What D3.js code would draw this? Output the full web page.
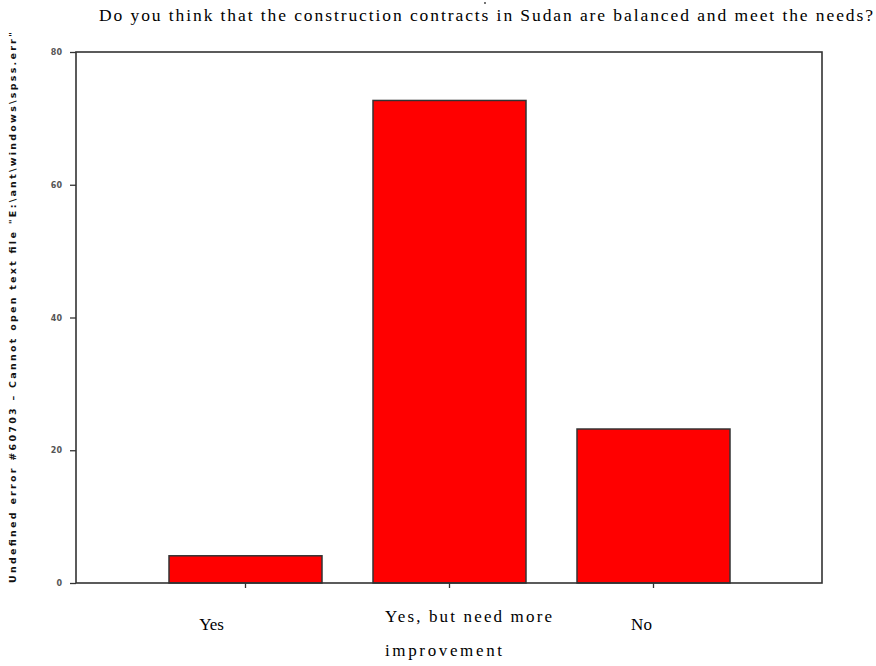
<!DOCTYPE html>
<html>
<head>
<meta charset="utf-8">
<script src="https://cdn.jsdelivr.net/npm/d3@7"></script>
<style>
  html, body { margin: 0; padding: 0; background: #fff; }
  svg { display: block; }
</style>
</head>
<body>
<svg id="chart" width="876" height="666"></svg>
<script>
const categories = ["Yes", "Yes, but need more improvement", "No"];
const categoryLines = [["Yes"], ["Yes, but need more", "improvement"], ["No"]];
const values = [4.1, 72.7, 23.2];
const yTicks = [0, 20, 40, 60, 80];
const titleText = "Do you think that the construction contracts in Sudan are balanced and meet the needs?";
const yLabelText = "Undefined error #60703 \u2013 Cannot open text file \"E:\\ant\\windows\\spss.err\"";

const svg = d3.select("#chart");
const frame = { left: 76, top: 52, right: 822, bottom: 583 };

const x = d3.scaleBand()
  .domain(categories)
  .range([143.5, 755.5])
  .paddingInner(0.25)
  .paddingOuter(0.125);

const y = d3.scaleLinear().domain([0, 80]).range([frame.bottom, frame.top]);

// Title
svg.append("text")
  .attr("x", 99).attr("y", 21)
  .attr("textLength", 774).attr("lengthAdjust", "spacing")
  .style("font-family", "'Liberation Serif', 'Times New Roman', serif")
  .style("font-size", "17.5px")
  .attr("fill", "#000")
  .text(titleText);

// tiny stray dot above the title (as in the reference)
svg.append("circle")
  .attr("cx", 485).attr("cy", 3).attr("r", 0.9)
  .attr("fill", "#333");

// Bars
svg.selectAll("rect.bar")
  .data(values)
  .join("rect")
  .attr("class", "bar")
  .attr("x", (d, i) => x(categories[i]))
  .attr("width", x.bandwidth())
  .attr("y", d => y(d))
  .attr("height", d => y(0) - y(d))
  .attr("fill", "#ff0000")
  .attr("stroke", "#333")
  .attr("stroke-width", 1.5);

// Frame
svg.append("rect")
  .attr("x", frame.left).attr("y", frame.top)
  .attr("width", frame.right - frame.left)
  .attr("height", frame.bottom - frame.top)
  .attr("fill", "none")
  .attr("stroke", "#333")
  .attr("stroke-width", 1.6);

// Y axis
const yAxis = d3.axisLeft(y).tickValues(yTicks).tickSize(6).tickPadding(8).tickFormat(d3.format("d"));
const yg = svg.append("g").attr("transform", `translate(${frame.left},0)`).call(yAxis);
yg.select(".domain").remove();
yg.selectAll(".tick line").attr("stroke", "#333").attr("stroke-width", 1.3);
yg.selectAll(".tick text")
  .style("font-family", "'DejaVu Sans', sans-serif")
  .style("font-size", "8px")
  .style("font-weight", "bold")
  .attr("fill", "#555");

// X axis ticks
const xAxis = d3.axisBottom(x).tickSize(5).tickFormat("");
const xg = svg.append("g").attr("transform", `translate(0,${frame.bottom})`).call(xAxis);
xg.select(".domain").remove();
xg.selectAll(".tick line").attr("stroke", "#333").attr("stroke-width", 1.3);

// X labels
const labelDx = [-34, 19, -12];
const labelFont = "'Liberation Serif', 'Times New Roman', serif";
categoryLines.forEach((lines, i) => {
  const cx = x(categories[i]) + x.bandwidth() / 2 + labelDx[i];
  const t = svg.append("text")
    .attr("text-anchor", lines.length > 1 ? "start" : "middle")
    .style("font-family", labelFont)
    .style("font-size", "17px")
    .attr("fill", "#000");
  if (lines.length === 1) {
    t.attr("x", cx).attr("y", 630).text(lines[0]);
  } else {
    t.append("tspan").attr("x", 385).attr("y", 622).attr("textLength", 167).attr("lengthAdjust", "spacing").text(lines[0]);
    t.append("tspan").attr("x", 385).attr("y", 656).attr("textLength", 117).attr("lengthAdjust", "spacing").text(lines[1]);
  }
});

// Y axis label
svg.append("text")
  .attr("transform", `translate(16,${frame.bottom}) rotate(-90)`)
  .attr("x", 0).attr("y", 0)
  .attr("textLength", 551).attr("lengthAdjust", "spacing")
  .style("font-family", "'DejaVu Sans', sans-serif")
  .style("font-size", "9.5px")
  .style("font-weight", "bold")
  .attr("fill", "#111")
  .text(yLabelText);
</script>
</body>
</html>
